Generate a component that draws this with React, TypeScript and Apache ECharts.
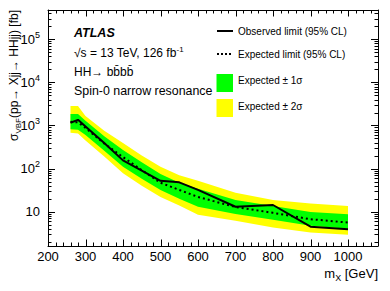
import React, { useEffect, useRef } from "react";
import * as echarts from "echarts";

const massPoints = [260, 280, 300, 350, 400, 450, 500, 550, 600, 700, 800, 900, 1000];
const observedLimit = [1160, 1350, 950, 393, 155, 90, 52, 48, 32, 13, 14.3, 4.5, 3.9];
const expectedLimit = [1220, 1180, 880, 380, 185, 92, 47, 32, 22, 12.8, 9.4, 6.7, 5.6];
const plus2Sigma = [2830, 2830, 1650, 760, 390, 200, 110, 70, 52, 27.5, 18.6, 15.5, 13.5];
const plus1Sigma = [1850, 1850, 1290, 560, 270, 140, 75, 47, 34, 18.6, 13.5, 9.8, 8.7];
const minus1Sigma = [817, 800, 600, 260, 110, 58, 32, 20, 13, 8.9, 6.5, 4.7, 4.0];
const minus2Sigma = [680, 650, 446, 190, 78, 40, 22, 14, 8.5, 6.2, 4.3, 3.3, 2.9];

const xTickLabels = [200, 300, 400, 500, 600, 700, 800, 900, 1000];
const yTickLabels = [10, 100, 1000, 10000, 100000];

const X_MIN = 200;
const X_MAX = 1080;
const Y_MIN = 1.6;
const Y_MAX = 478000;

const FONT = "'Liberation Sans', Arial, Helvetica, sans-serif";

function minorY(): number[] {
  const out: number[] = [];
  for (let e = 0; e <= 5; e++) {
    for (let k = 2; k <= 9; k++) {
      const v = k * Math.pow(10, e);
      if (v >= Y_MIN && v <= Y_MAX) out.push(v);
    }
  }
  return out;
}
function minorX(): number[] {
  const out: number[] = [];
  for (let v = X_MIN; v <= X_MAX; v += 20) if (v % 100 !== 0) out.push(v);
  return out;
}

const supFmt = (v: number) => {
  const e = Math.round(Math.log10(v));
  if (e === 1) return "{b|10}";
  return "{b|10}{s|" + e + "}";
};

function bandSeries(upper: number[], lower: number[], color: string, z: number) {
  return {
    type: "custom",
    xAxisIndex: 0,
    yAxisIndex: 0,
    z,
    silent: true,
    clip: true,
    data: massPoints.map((m, i) => [m, upper[i], lower[i]]),
    encode: { x: 0, y: [1, 2] },
    renderItem: (params: any, api: any) => {
      if (params.dataIndex !== 0) return { type: "group", children: [] };
      const pts: number[][] = [];
      for (let i = 0; i < massPoints.length; i++) pts.push(api.coord([massPoints[i], upper[i]]));
      for (let i = massPoints.length - 1; i >= 0; i--) pts.push(api.coord([massPoints[i], lower[i]]));
      return { type: "polygon", shape: { points: pts }, style: { fill: color, stroke: null } };
    },
  };
}

const textGraphics: any[] = [
  {
    type: "text",
    x: 74,
    y: 33,
    style: { text: "ATLAS", fontSize: 12.5, fontWeight: "bold", fontStyle: "italic", fontFamily: FONT, fill: "#000", verticalAlign: "middle" },
  },
  {
    type: "text",
    x: 74,
    y: 53,
    style: {
      text: "{b|√s = 13 TeV, 126 fb}{s|-1}",
      rich: {
        b: { fontSize: 12, fontFamily: FONT, fill: "#000", lineHeight: 16 },
        s: { fontSize: 8, fontFamily: FONT, fill: "#000", verticalAlign: "top", lineHeight: 10 },
      },
      verticalAlign: "middle",
    },
  },
  {
    type: "text",
    x: 74,
    y: 72,
    style: { text: "HH→ bb\u0304bb\u0304", fontSize: 12, fontFamily: FONT, fill: "#000", verticalAlign: "middle" },
  },
  {
    type: "text",
    x: 74,
    y: 91,
    style: { text: "Spin-0 narrow resonance", fontSize: 12.4, fontFamily: FONT, fill: "#000", verticalAlign: "middle" },
  },
  { type: "line", shape: { x1: 217, y1: 31, x2: 233, y2: 31 }, style: { stroke: "#000", lineWidth: 2 } },
  {
    type: "text",
    x: 238,
    y: 31,
    style: { text: "Observed limit (95% CL)", fontSize: 10, fontFamily: FONT, fill: "#000", verticalAlign: "middle" },
  },
  { type: "line", shape: { x1: 217, y1: 54, x2: 233, y2: 54 }, style: { stroke: "#000", lineWidth: 2, lineDash: [2, 2] } },
  {
    type: "text",
    x: 238,
    y: 54,
    style: { text: "Expected limit (95% CL)", fontSize: 10, fontFamily: FONT, fill: "#000", verticalAlign: "middle" },
  },
  { type: "rect", shape: { x: 216.5, y: 74, width: 16.5, height: 18 }, style: { fill: "#00ff00" } },
  {
    type: "text",
    x: 238,
    y: 80,
    style: { text: "Expected ± 1σ", fontSize: 10, fontFamily: FONT, fill: "#000", verticalAlign: "middle" },
  },
  { type: "rect", shape: { x: 216.5, y: 99, width: 16.5, height: 18 }, style: { fill: "#ffff00" } },
  {
    type: "text",
    x: 238,
    y: 106,
    style: { text: "Expected ± 2σ", fontSize: 10, fontFamily: FONT, fill: "#000", verticalAlign: "middle" },
  },
  {
    type: "text",
    x: 378,
    y: 273,
    style: {
      text: "{b|m}{s|X}{b| [GeV]}",
      align: "right",
      verticalAlign: "middle",
      rich: {
        b: { fontSize: 13, fontFamily: FONT, fill: "#000", lineHeight: 18 },
        s: { fontSize: 9, fontFamily: FONT, fill: "#000", verticalAlign: "bottom", lineHeight: 11 },
      },
    },
  },
  {
    type: "text",
    x: 14,
    y: 10,
    rotation: Math.PI / 2,
    style: {
      text: "{b|σ}{s|VBF}{b|(pp→ Xjj→ HHjj) [fb]}",
      align: "right",
      verticalAlign: "middle",
      rich: {
        b: { fontSize: 12, fontFamily: FONT, fill: "#000", lineHeight: 16 },
        s: { fontSize: 8, fontFamily: FONT, fill: "#000", verticalAlign: "bottom", lineHeight: 10 },
      },
    },
  },
];

export default function App() {
  const ref = useRef<HTMLDivElement>(null);
  useEffect(() => {
    if (!ref.current) return;
    const chart = echarts.init(ref.current, null, { renderer: "svg" });
    const axisLine = { show: true, lineStyle: { color: "#000", width: 1 } };
    const labelRich = {
      b: { fontSize: 13, fontFamily: FONT, color: "#000", lineHeight: 18 },
      s: { fontSize: 9, fontFamily: FONT, color: "#000", verticalAlign: "top", lineHeight: 11 },
    };
    const option: any = {
      animation: false,
      backgroundColor: "#fff",
      grid: { left: 48, top: 10, right: 12, bottom: 45, containLabel: false },
      xAxis: [
        {
          type: "value",
          min: X_MIN,
          max: X_MAX,
          interval: 100,
          position: "bottom",
          splitLine: { show: false },
          axisLine,
          axisLabel: {
            show: true,
            customValues: xTickLabels,
            formatter: (v: number) => String(v),
            fontSize: 13,
            fontFamily: FONT,
            color: "#000",
            margin: 4,
          },
          axisTick: { show: false },
        },
        {
          type: "value",
          min: X_MIN,
          max: X_MAX,
          interval: 100,
          position: "top",
          splitLine: { show: false },
          axisLine,
          axisLabel: { show: false },
          axisTick: { show: false },
        },
      ],
      yAxis: [
        {
          type: "log",
          logBase: 10,
          min: Y_MIN,
          max: Y_MAX,
          position: "left",
          splitLine: { show: false },
          axisLine,
          axisLabel: {
            show: true,
            customValues: yTickLabels,
            formatter: supFmt,
            rich: labelRich,
            margin: 8,
          },
          axisTick: { show: false },
        },
        {
          type: "log",
          logBase: 10,
          min: Y_MIN,
          max: Y_MAX,
          position: "right",
          splitLine: { show: false },
          axisLine,
          axisLabel: { show: false },
          axisTick: { show: false },
        },
      ],
      series: [
        bandSeries(plus2Sigma, minus2Sigma, "#ffff00", 1),
        bandSeries(plus1Sigma, minus1Sigma, "#00ff00", 2),
        {
          type: "line",
          name: "Expected",
          xAxisIndex: 0,
          yAxisIndex: 0,
          z: 3,
          data: massPoints.map((m, i) => [m, expectedLimit[i]]),
          showSymbol: false,
          symbol: "none",
          lineStyle: { color: "#000", width: 2, type: [2, 3] },
        },
        {
          type: "line",
          name: "Observed",
          xAxisIndex: 0,
          yAxisIndex: 0,
          z: 4,
          data: massPoints.map((m, i) => [m, observedLimit[i]]),
          showSymbol: false,
          symbol: "none",
          lineStyle: { color: "#000", width: 2 },
        },
      ],
      graphic: textGraphics,
    };
    chart.setOption(option);

    // tick marks on all four sides, placed through the chart's own axis scales
    const px = (x: number, y: number): number[] =>
      chart.convertToPixel({ xAxisIndex: 0, yAxisIndex: 0 }, [x, y]) as unknown as number[];
    const ticks: any[] = [];
    const tickStyle = { stroke: "#000", lineWidth: 1 };
    const addY = (v: number, len: number) => {
      const pL = px(X_MIN, v);
      const pR = px(X_MAX, v);
      if (!pL || !pR) return;
      const y = Math.round(pL[1]) + 0.5;
      ticks.push({ type: "line", z: 100, shape: { x1: pL[0], y1: y, x2: pL[0] + len, y2: y }, style: tickStyle });
      ticks.push({ type: "line", z: 100, shape: { x1: pR[0], y1: y, x2: pR[0] - len, y2: y }, style: tickStyle });
    };
    const addX = (v: number, len: number) => {
      const pB = px(v, Y_MIN);
      const pT = px(v, Y_MAX);
      if (!pB || !pT) return;
      const x = Math.round(pB[0]) + 0.5;
      ticks.push({ type: "line", z: 100, shape: { x1: x, y1: pB[1], x2: x, y2: pB[1] - len }, style: tickStyle });
      ticks.push({ type: "line", z: 100, shape: { x1: x, y1: pT[1], x2: x, y2: pT[1] + len }, style: tickStyle });
    };
    yTickLabels.forEach((v) => addY(v, 7));
    minorY().forEach((v) => addY(v, 3.5));
    xTickLabels.forEach((v) => addX(v, 6.5));
    minorX().forEach((v) => addX(v, 3.5));
    chart.setOption({ graphic: [...textGraphics, ...ticks] });

    return () => chart.dispose();
  }, []);
  return <div ref={ref} style={{ position: "absolute", left: 0, top: 0, width: 390, height: 291 }} />;
}
